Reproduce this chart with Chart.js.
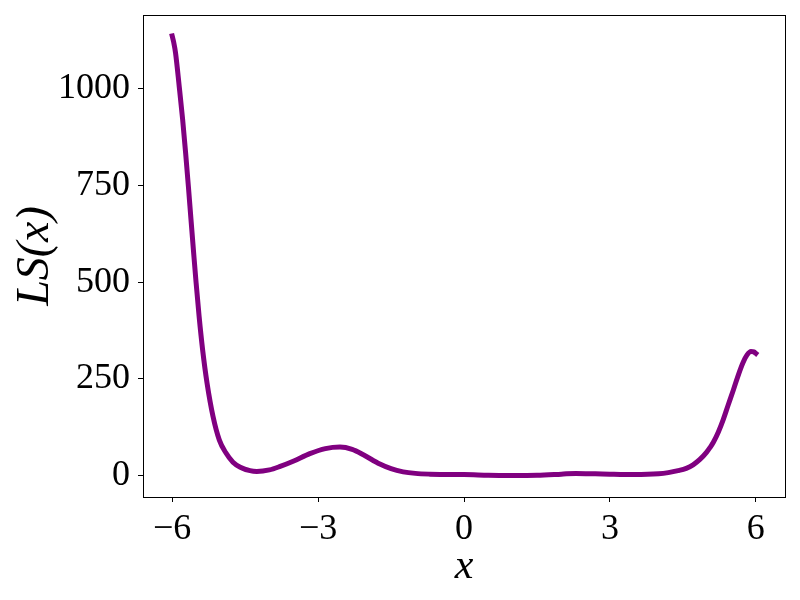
<!DOCTYPE html>
<html>
<head>
<meta charset="utf-8">
<script src="https://cdn.jsdelivr.net/npm/chart.js@4/dist/chart.umd.min.js"></script>
<style>
  html, body { margin: 0; padding: 0; background: #fff; }
  #wrap { width: 800px; height: 600px; }
</style>
</head>
<body>
<div id="wrap"><canvas id="c" width="800" height="600"></canvas></div>
<script>
const xValues = [-6, -5.97, -5.931, -5.855, -5.785, -5.724, -5.666, -5.613, -5.559, -5.508, -5.446, -5.374, -5.284, -5.16, -5.03, -4.9, -4.75, -4.6, -4.4, -4.26, -4.0, -3.78, -3.5, -3.17, -2.85, -2.55, -2.3, -2.07, -1.73, -1.5, -1.25, -1.0, -0.7, -0.3, 0, 0.5, 1.0, 1.5, 2.0, 2.3, 2.7, 3.0, 3.5, 4.0, 4.2, 4.4, 4.57, 4.71, 4.85, 4.99, 5.06, 5.13, 5.23, 5.33, 5.43, 5.54, 5.64, 5.74, 5.82, 5.9, 5.96, 6.0];
const lsValues = [1136, 1120, 1092, 1005, 920, 834, 746, 661, 576, 498, 411, 325, 240, 153, 92, 60, 35, 22, 13, 11, 15, 24, 38, 57, 70, 74, 68, 54, 30, 18, 10, 6, 4, 3, 3, 1, 0.5, 1, 4, 6, 5, 4, 3, 5, 8, 13, 19, 28, 42, 61, 73, 87, 113, 145, 182, 222, 260, 293, 312, 321, 320, 316];
const xTicks = [-6, -3, 0, 3, 6];
const yTicks = [0, 250, 500, 750, 1000];
const xTickLabels = ['\u22126', '\u22123', '0', '3', '6'];
const yTickLabels = ['0', '250', '500', '750', '1000'];

const points = xValues.map((x, i) => ({ x: x, y: lsValues[i] }));

const frame = {
  id: 'frame',
  afterDraw(chart) {
    const a = chart.chartArea, ctx = chart.ctx;
    ctx.save();
    ctx.strokeStyle = '#000';
    ctx.lineWidth = 1;
    ctx.strokeRect(Math.round(a.left) + 0.5, Math.round(a.top) + 0.5, Math.round(a.right - a.left), Math.round(a.bottom - a.top));
    ctx.restore();
  }
};

const serif = '"Liberation Serif", "DejaVu Serif", serif';
const tickFont = { family: serif, size: 36 };

new Chart(document.getElementById('c'), {
  type: 'line',
  data: {
    datasets: [{
      data: points,
      borderColor: '#800080',
      borderWidth: 5,
      borderCapStyle: 'square',
      pointRadius: 0,
      fill: false,
      cubicInterpolationMode: 'monotone'
    }]
  },
  options: {
    responsive: false,
    animation: false,
    layout: { padding: { top: 15, right: 15, left: 0, bottom: 0 } },
    plugins: { legend: { display: false }, tooltip: { enabled: false } },
    scales: {
      x: {
        type: 'linear',
        min: -6.6, max: 6.6,
        afterBuildTicks(s) { s.ticks = xTicks.map(v => ({ value: v })); },
        afterFit(s) { s.height = 103; s.paddingLeft = 0; s.paddingRight = 0; },
        grid: { drawOnChartArea: false, drawTicks: true, tickLength: 5, tickColor: '#000' },
        border: { display: false },
        ticks: {
          color: '#000', font: tickFont, padding: 6, maxRotation: 0,
          callback(v) { const i = xTicks.indexOf(v); return i >= 0 ? xTickLabels[i] : ''; }
        },
        title: { display: true, text: 'x', color: '#000', font: { family: serif, size: 42, style: 'italic' }, padding: { top: 0, bottom: 8 } }
      },
      y: {
        type: 'linear',
        min: -55, max: 1190,
        afterBuildTicks(s) { s.ticks = yTicks.map(v => ({ value: v })); },
        afterFit(s) { s.width = 143; s.paddingTop = 0; s.paddingBottom = 0; },
        grid: { drawOnChartArea: false, drawTicks: true, tickLength: 5, tickColor: '#000' },
        border: { display: false },
        ticks: {
          color: '#000', font: tickFont, padding: 8,
          callback(v) { const i = yTicks.indexOf(v); return i >= 0 ? yTickLabels[i] : ''; }
        },
        title: { display: true, text: 'LS(x)', color: '#000', font: { family: serif, size: 46, style: 'italic' }, padding: { top: 8, bottom: 0 } }
      }
    }
  },
  plugins: [frame]
});
</script>
</body>
</html>
